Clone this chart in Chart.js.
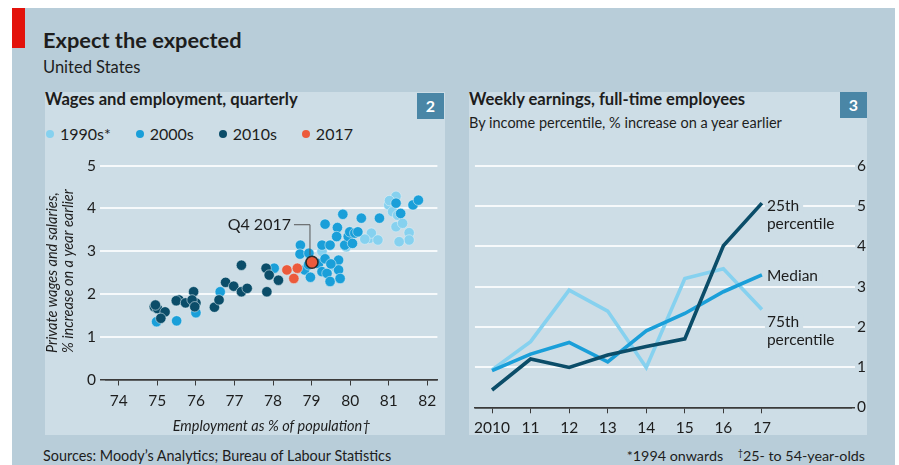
<!DOCTYPE html>
<html>
<head>
<meta charset="utf-8">
<script src="https://cdn.jsdelivr.net/npm/chart.js@4.4.1/dist/chart.umd.min.js"></script>
<style>
body{margin:0;width:899px;height:465px;background:#fff;position:relative;overflow:hidden;font-family:Lato,sans-serif;color:#1d1d1d}
.abs{position:absolute;white-space:nowrap}
#bg{left:12px;top:8px;width:883px;height:457px;background:#b8cdd9}
#red{left:12px;top:8px;width:13px;height:40px;background:#e3120b}
.panel{background:#cddde6;top:92px;height:343px}
#p2{left:45px;width:400px}
#p3{left:469px;width:398px}
.num{width:27px;height:26px;background:#4a86a6;color:#fff;font-weight:bold;font-size:16px;line-height:26px;text-align:center}
#legend{left:46px;top:124px;font-size:16px;line-height:19px;display:flex}
#legend span.item{display:flex;align-items:center;margin-right:25px}
#legend i{display:inline-block;width:8px;height:8px;border-radius:50%;margin-right:6px}
canvas{position:absolute}
</style>
</head>
<body>
<div class="abs" id="bg"></div>
<div class="abs" id="red"></div>
<div class="abs" style="left:43px;top:26.8px;font-size:21.8px;line-height:26.2px;font-weight:bold">Expect the expected</div>
<div class="abs" style="left:43px;top:57.7px;font-size:16.5px;line-height:19.8px">United States</div>
<div class="abs panel" id="p2"></div>
<div class="abs panel" id="p3"></div>
<div class="abs" style="left:45px;top:89.6px;font-size:16.6px;line-height:19.9px;font-weight:bold">Wages and employment, quarterly</div>
<div class="abs num" style="left:417px;top:93px">2</div>
<div class="abs" id="legend"></div>
<div class="abs" style="left:469px;top:89.6px;font-size:16.6px;line-height:19.9px;font-weight:bold">Weekly earnings, full-time employees</div>
<div class="abs" style="left:469px;top:114px;font-size:14.5px;line-height:17.4px">By income percentile, % increase on a year earlier</div>
<div class="abs num" style="left:840px;top:92px">3</div>
<div class="abs" style="left:43px;top:446.5px;font-size:14.4px;line-height:17.3px">Sources: Moody’s Analytics; Bureau of Labour Statistics</div>
<div class="abs" style="right:34px;top:446.5px;font-size:14.3px;line-height:17.2px">*1994 onwards&nbsp;&nbsp;&nbsp;&nbsp;<span style="font-size:9px;position:relative;top:-5px">†</span>25- to 54-year-olds</div>
<canvas id="scatter" width="400" height="295" style="left:45px;top:140px;width:400px;height:295px"></canvas>
<canvas id="lines" width="411" height="295" style="left:469px;top:140px;width:411px;height:295px"></canvas>
<script>
// chart 2: wages vs employment, quarterly
const decades = ['1990s*', '2000s', '2010s', '2017'];
const decadeColours = ['#86d1ef', '#1a9fd9', '#0b4d69', '#ec5a3b'];

const emp1990s = [81.19, 81.0, 81.1, 81.23, 81.19, 81.36, 81.53, 81.53, 81.27, 80.5, 80.55, 80.72, 80.38, 79.9, 79.27, 79.6, 81.02];
const wage1990s = [4.28, 4.08, 3.92, 3.84, 3.57, 3.65, 3.43, 3.26, 3.22, 3.30, 3.42, 3.26, 3.28, 3.10, 2.99, 2.64, 4.18];

const emp2000s = [79.81, 80.29, 80.76, 81.19, 81.31, 81.63, 81.77, 78.71, 78.7, 78.93, 78.03, 78.82, 78.97, 79.18, 79.27,
  79.4, 79.48, 79.7, 79.7, 79.74, 79.27, 79.48, 79.35, 79.67, 79.65, 79.86, 79.95, 79.99, 80.06, 80.12, 80.2, 78.92,
  79.35, 79.5, 74.98, 75.5, 76.0, 76.63];
const wage2000s = [3.86, 3.77, 3.77, 4.12, 3.88, 4.08, 4.19, 3.14, 2.93, 2.95, 2.60, 2.56, 2.39, 2.71, 2.52,
  2.48, 2.29, 2.79, 2.56, 2.36, 3.14, 3.14, 3.63, 3.55, 3.34, 3.14, 3.34, 3.45, 3.18, 3.42, 3.45, 2.68,
  2.82, 2.70, 1.35, 1.37, 1.56, 2.05];

const emp2010s = [74.92, 75.0, 75.2, 75.09, 74.95, 75.56, 75.49, 75.73, 75.94, 76.0, 75.9, 75.97, 76.48, 76.6, 76.77,
  76.98, 77.18, 77.18, 77.33, 77.82, 77.9, 78.14, 77.84];
const wage2010s = [1.70, 1.66, 1.58, 1.43, 1.74, 1.86, 1.84, 1.79, 2.05, 1.79, 1.86, 1.70, 1.69, 1.86, 2.27,
  2.18, 2.67, 2.05, 2.13, 2.60, 2.44, 2.32, 2.05];

const emp2017 = [78.36, 78.63, 78.54, 79.01];
const wage2017 = [2.56, 2.60, 2.36, 2.74];

const empTicks = [74, 75, 76, 77, 78, 79, 80, 81, 82];
const wageTicks = [0, 1, 2, 3, 4, 5];

// chart 3: weekly earnings growth by percentile
const years = [2010, 2011, 2012, 2013, 2014, 2015, 2016, 2017];
const yearLabels = ['2010', '11', '12', '13', '14', '15', '16', '17'];
const pct25 = [0.43, 1.20, 0.99, 1.30, 1.51, 1.70, 4.01, 5.07];
const median = [0.91, 1.32, 1.61, 1.13, 1.90, 2.33, 2.87, 3.29];
const pct75 = [0.93, 1.63, 2.91, 2.39, 0.99, 3.20, 3.44, 2.43];
const lineNames = [['25th', 'percentile'], ['Median'], ['75th', 'percentile']];
const lineColours = ['#0b4d69', '#1a9fd9', '#86d1ef'];

const panelBg = '#cddde6';
const ink = '#1d1d1d';
const axisInk = '#3a3a3a';

// html legend
let legendEl = document.getElementById('legend');
decades.forEach((d, i) => {
  let item = document.createElement('span');
  item.className = 'item';
  item.innerHTML = '<i style="background:' + decadeColours[i] + '"></i>' + d;
  legendEl.appendChild(item);
});

function pts(xs, ys){
  return xs.map((x, i) => ({x: x, y: ys[i]}));
}

const yTitlePlugin = {
  id: 'yTitle',
  afterDraw(chart){
    const c = chart.ctx;
    const y = chart.scales.y.getPixelForValue(0.62);
    c.save();
    c.font = 'italic 14.5px Lato';
    c.fillStyle = ink;
    c.textBaseline = 'middle';
    c.textAlign = 'left';
    c.translate(7.5, y);
    c.rotate(-Math.PI / 2);
    c.fillText('Private wages and salaries,', 0, 0);
    c.fillText('% increase on a year earlier', 0, 16);
    c.restore();
  }
};

const q4Plugin = {
  id: 'q4',
  afterDatasetsDraw(chart){
    const meta = chart.getDatasetMeta(3);
    const p = meta.data[meta.data.length - 1];
    const c = chart.ctx;
    c.save();
    c.strokeStyle = '#555';
    c.lineWidth = 1;
    c.beginPath();
    c.moveTo(p.x - 18, p.y - 37.5);
    c.lineTo(p.x - 2, p.y - 37.5);
    c.lineTo(p.x - 2, p.y - 7);
    c.stroke();
    c.font = '16px Lato';
    c.fillStyle = ink;
    c.textAlign = 'right';
    c.textBaseline = 'middle';
    c.fillText('Q4 2017', p.x - 21, p.y - 37);
    c.restore();
  }
};

function scatterSet(i, xs, ys){
  return {
    label: decades[i],
    data: pts(xs, ys),
    backgroundColor: decadeColours[i],
    borderColor: 'rgba(225,238,245,0.7)',
    borderWidth: 0.8,
    pointRadius: 5.2,
    order: 4 - i
  };
}

let s2017 = scatterSet(3, emp2017, wage2017);
s2017.pointRadius = ctx => ctx.dataIndex === emp2017.length - 1 ? 6 : 5.2;
s2017.borderColor = ctx => ctx.dataIndex === emp2017.length - 1 ? '#2a2a2a' : 'rgba(225,238,245,0.7)';
s2017.borderWidth = ctx => ctx.dataIndex === emp2017.length - 1 ? 1.6 : 0.8;
s2017.order = 0;

new Chart(document.getElementById('scatter'), {
  type: 'scatter',
  data: {
    datasets: [
      scatterSet(0, emp1990s, wage1990s),
      scatterSet(1, emp2000s, wage2000s),
      scatterSet(2, emp2010s, wage2010s),
      s2017
    ]
  },
  options: {
    responsive: false,
    animation: false,
    clip: false,
    layout: {padding: {top: 25.5, right: 3, left: 0, bottom: 0}},
    plugins: {legend: {display: false}, tooltip: {enabled: false}},
    scales: {
      x: {
        type: 'linear',
        min: 73.668,
        max: 82.263,
        afterBuildTicks: s => { s.ticks = empTicks.map(v => ({value: v})); },
        afterFit: s => { s.height = 55.5; },
        grid: {drawOnChartArea: false, color: axisInk, tickLength: 6, lineWidth: 1},
        border: {color: axisInk, width: 1.5},
        ticks: {font: {family: 'Lato', size: 15.5}, color: ink, padding: 6, maxRotation: 0},
        title: {display: true, text: 'Employment as % of population†', color: ink,
          font: {family: 'Lato', size: 14.5, style: 'italic'}, padding: {top: 0, bottom: 0}}
      },
      y: {
        min: 0,
        max: 5,
        afterBuildTicks: s => { s.ticks = wageTicks.map(v => ({value: v})); },
        afterFit: s => { s.width = 61; },
        grid: {color: c => c.tick.value === 0 ? axisInk : '#f6f9fb',
               lineWidth: c => c.tick.value === 0 ? 1.5 : 2, tickLength: 6},
        border: {display: false},
        ticks: {font: {family: 'Lato', size: 15.5}, color: ink, padding: 4}
      }
    }
  },
  plugins: [yTitlePlugin, q4Plugin]
});

const lineLabelPlugin = {
  id: 'lineLabels',
  afterDatasetsDraw(chart){
    const c = chart.ctx;
    const offsets = [3, 1, 13];
    c.save();
    c.font = '15.5px Lato';
    c.textBaseline = 'middle';
    c.textAlign = 'left';
    chart.data.datasets.forEach((ds, i) => {
      const meta = chart.getDatasetMeta(i);
      const p = meta.data[meta.data.length - 1];
      lineNames[i].forEach((t, j) => {
        const y = p.y + offsets[i] + j * 18;
        const w = c.measureText(t).width;
        c.fillStyle = panelBg;
        c.fillRect(p.x + 3, y - 8, w + 6, 16);
        c.fillStyle = ink;
        c.fillText(t, p.x + 5, y);
      });
    });
    c.restore();
  }
};

function lineSet(i, values){
  return {
    label: lineNames[i].join(' '),
    data: pts(years, values),
    borderColor: lineColours[i],
    borderWidth: 3.6,
    pointRadius: 0,
    tension: 0,
    order: i
  };
}

new Chart(document.getElementById('lines'), {
  type: 'line',
  data: {
    datasets: [lineSet(0, pct25), lineSet(1, median), lineSet(2, pct75)]
  },
  options: {
    responsive: false,
    animation: false,
    layout: {padding: {top: 25.7, right: 0, left: 1, bottom: 0}},
    plugins: {legend: {display: false}, tooltip: {enabled: false}},
    scales: {
      x: {
        type: 'linear',
        min: 2009.557,
        max: 2019.31,
        afterBuildTicks: s => { s.ticks = years.map(v => ({value: v})); },
        afterFit: s => { s.height = 27.7; },
        grid: {drawOnChartArea: false, color: axisInk, tickLength: 6, lineWidth: 1},
        border: {color: axisInk, width: 1.5},
        ticks: {font: {family: 'Lato', size: 15.5}, color: ink, padding: 5, maxRotation: 0,
          callback: v => yearLabels[years.indexOf(v)]}
      },
      y: {
        position: 'right',
        min: 0,
        max: 6,
        afterBuildTicks: s => { s.ticks = [0, 1, 2, 3, 4, 5, 6].map(v => ({value: v})); },
        afterFit: s => { s.width = 29; },
        grid: {color: c => c.tick.value === 0 ? axisInk : '#f6f9fb',
               lineWidth: c => c.tick.value === 0 ? 1.5 : 2, tickLength: 4},
        border: {display: false},
        ticks: {font: {family: 'Lato', size: 15.5}, color: ink, padding: 2}
      }
    }
  },
  plugins: [lineLabelPlugin]
});
</script>
</body>
</html>
